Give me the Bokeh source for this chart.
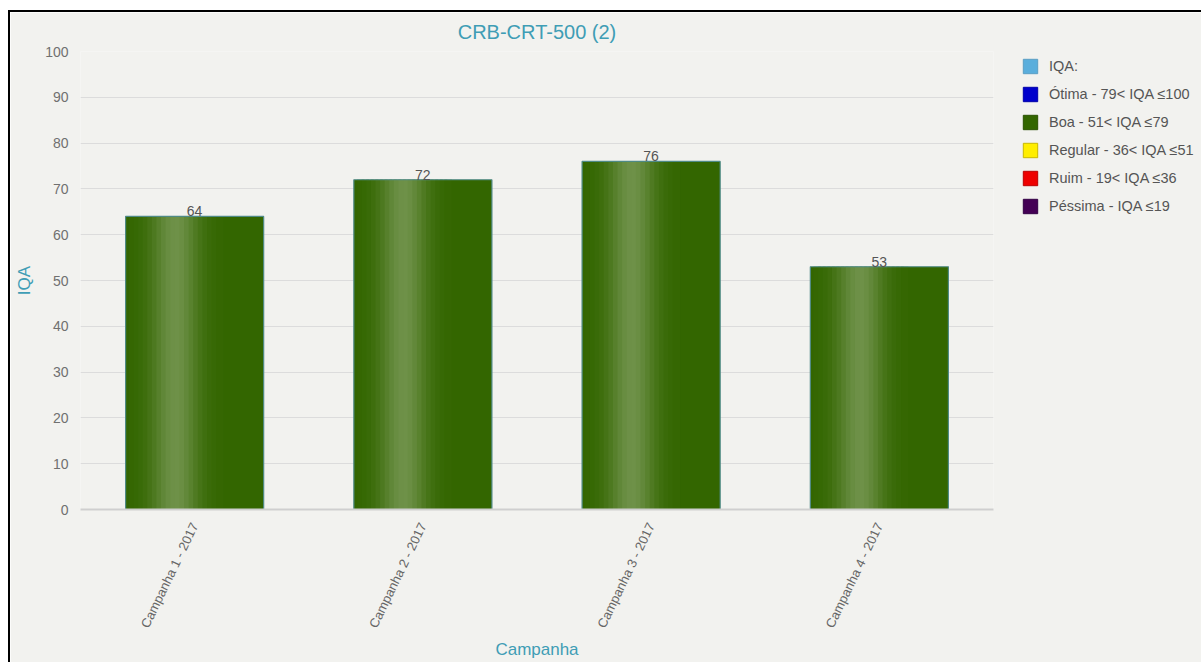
from bokeh.plotting import figure
from bokeh.models import (ColumnDataSource, FactorRange, Range1d, FixedTicker, LabelSet,
                          Legend, LegendItem)
from bokeh.core.properties import value
from bokeh.transform import dodge
from bokeh.embed import file_html
from bokeh.resources import INLINE
import math

# ---- data ----
campanhas = ["Campanha 1 - 2017", "Campanha 2 - 2017", "Campanha 3 - 2017", "Campanha 4 - 2017"]
iqa = [64, 72, 76, 53]
y_ticks = [0, 10, 20, 30, 40, 50, 60, 70, 80, 90, 100]
legend_labels = ["IQA:", "Ótima - 79< IQA ≤100", "Boa - 51< IQA ≤79",
                 "Regular - 36< IQA ≤51", "Ruim - 19< IQA ≤36", "Péssima - IQA ≤19"]
legend_colors = ["#5aaedc", "#0000cc", "#336600", "#ffee00", "#ee0000", "#440055"]
legend_borders = ["#5a9ec4", "#0000aa", "#2a5200", "#c8b800", "#bb0000", "#330044"]

FONT = "Liberation Sans"
TEAL = "#3f9db5"
BG = "#f2f2ef"

src = ColumnDataSource(dict(cat=campanhas, val=iqa, lbl=[str(v) for v in iqa]))

p = figure(x_range=FactorRange(*campanhas, range_padding=0), y_range=Range1d(0, 100),
           frame_width=913, frame_height=458,
           min_border_left=70, min_border_top=39, min_border_bottom=150, min_border_right=208,
           output_backend="svg", toolbar_location=None,
           title="CRB-CRT-500 (2)", background_fill_color=BG, border_fill_color=BG,
           margin=(10, 0, 0, 8), styles={"border-top": "2px solid black", "border-left": "2px solid black"})
p.outline_line_color = None

p.title.text_font = FONT
p.title.text_font_size = "20px"
p.title.text_font_style = "normal"
p.title.text_color = TEAL
p.title.align = "center"
p.title.vertical_align = "top"
p.title.standoff = 14

# gradient bars made of thin strips
BW = 0.605
N = 30
def mix(c1, c2, t):
    a = [int(c1[i:i+2], 16) for i in (1, 3, 5)]
    b = [int(c2[i:i+2], 16) for i in (1, 3, 5)]
    return "#%02x%02x%02x" % tuple(round(a[k] + (b[k] - a[k]) * t) for k in range(3))
dark = "#336600"
light = "#6e9148"
p.vbar(x="cat", top="val", width=BW, source=src, fill_color=dark, line_color=None)
w = BW / N
for i in range(N):
    t = (i + 0.5) / N
    k = math.exp(-((t - 0.37) / 0.17) ** 2)
    if k < 0.02:
        continue
    col = mix(dark, light, k)
    off = -BW / 2 + w * (i + 0.5)
    p.vbar(x=dodge("cat", off, range=p.x_range), top="val", width=w * 1.6, source=src,
           fill_color=col, line_color=None)
p.vbar(x="cat", top="val", width=BW, source=src, fill_color=None, line_color="#4f8a86", line_width=1.2)

labels = LabelSet(x="cat", y="val", text="lbl", source=src, text_align="center",
                  text_baseline="bottom", y_offset=0, text_font_size="14px",
                  text_color="#555555", text_font=value(FONT))
p.add_layout(labels)

# axes
p.yaxis.ticker = FixedTicker(ticks=y_ticks)
p.yaxis.axis_line_color = None
p.yaxis.major_tick_line_color = None
p.yaxis.minor_tick_line_color = None
p.yaxis.major_label_standoff = 6
p.yaxis.major_label_text_font = FONT
p.yaxis.major_label_text_font_size = "14px"
p.yaxis.major_label_text_color = "#707070"
p.yaxis.axis_label = "IQA"
p.yaxis.axis_label_text_font = FONT
p.yaxis.axis_label_text_font_size = "17px"
p.yaxis.axis_label_text_font_style = "normal"
p.yaxis.axis_label_text_color = TEAL
p.yaxis.axis_label_standoff = 8

p.xaxis.axis_line_color = "#cfcfcf"
p.xaxis.axis_line_width = 2
p.xaxis.major_tick_line_color = None
p.xaxis.minor_tick_line_color = None
p.xaxis.major_label_orientation = 1.12
p.xaxis.major_label_standoff = 8
p.xaxis.major_label_text_font = FONT
p.xaxis.major_label_text_font_size = "13px"
p.xaxis.major_label_text_color = "#666666"
p.xaxis.axis_label = "Campanha"
p.xaxis.axis_label_text_font = FONT
p.xaxis.axis_label_text_font_size = "17px"
p.xaxis.axis_label_text_font_style = "normal"
p.xaxis.axis_label_text_color = TEAL
p.xaxis.axis_label_standoff = 4

p.xgrid.grid_line_color = None
p.ygrid.grid_line_color = "#dcdcdc"
p.ygrid.grid_line_width = 1

# legend (swatches carry no drawable data; only their legend glyph is shown)
nan = float("nan")
items = []
for lab, col, bc in zip(legend_labels, legend_colors, legend_borders):
    r = p.quad(left=[nan], right=[nan], top=[nan], bottom=[nan], fill_color=col, line_color=bc)
    items.append(LegendItem(label=lab, renderers=[r]))
legend = Legend(items=items, location=(28, 293), background_fill_alpha=0,
                border_line_color=None, label_text_font=FONT, label_text_font_size="14.5px",
                label_text_color="#555555", glyph_width=18, glyph_height=18, label_height=21,
                spacing=7, label_standoff=10, margin=0, padding=0)
p.add_layout(legend, "right")

open("out.html", "w").write(file_html(p, INLINE))
